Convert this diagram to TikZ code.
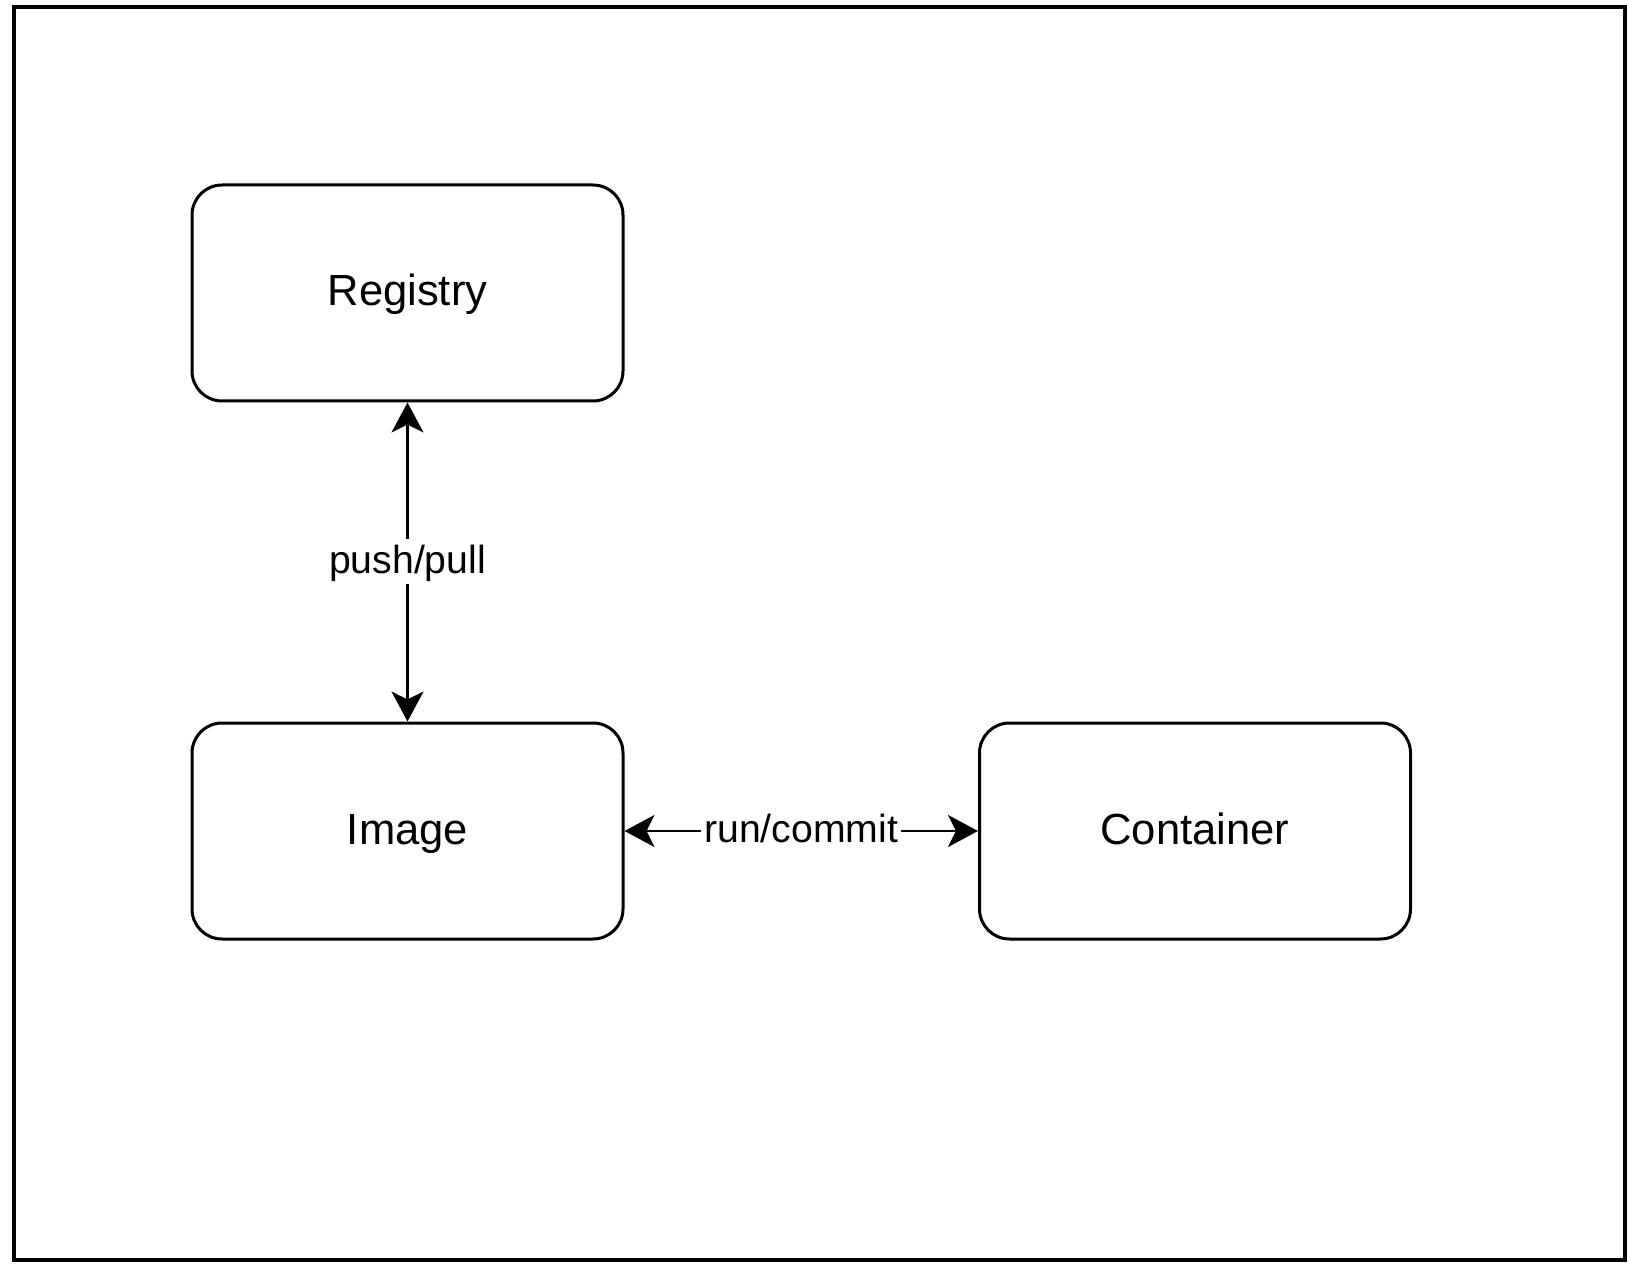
\documentclass[tikz,border=0pt]{standalone}
\usepackage{fontspec}
\setmainfont{Liberation Sans}
\usetikzlibrary{arrows.meta}

\begin{document}
\begin{tikzpicture}[x=0.5pt,y=-0.5pt,
  box/.style={draw,line width=1.5pt,rounded corners=15pt,minimum width=215.5pt,
    minimum height=108pt,inner sep=0pt,text height=17pt,text depth=4pt,
    font=\fontsize{21.8}{26}\selectfont},
  link/.style={line width=1.3pt,
    {Stealth[length=15pt,width=16pt,inset=4pt]}-{Stealth[length=15pt,width=16pt,inset=4pt]}},
  lbl/.style={fill=white,inner sep=1.5pt,text height=15.5pt,text depth=4pt,
    font=\fontsize{19.6}{23}\selectfont}]

  \useasboundingbox (0,0) rectangle (1628,1272);
  \draw[line width=2pt] (14,7) rectangle (1624.5,1259.5);

  \draw (407.5,293) node[box] (registry) {Registry};
  \draw (407.5,831) node[box] (image) {Image};
  \draw (1195,831) node[box] (container) {Container};

  \draw[link] (registry) -- node[lbl] {push/pull} (image);
  \draw[link] (image) -- node[lbl] {run/commit} (container);

\end{tikzpicture}
\end{document}
